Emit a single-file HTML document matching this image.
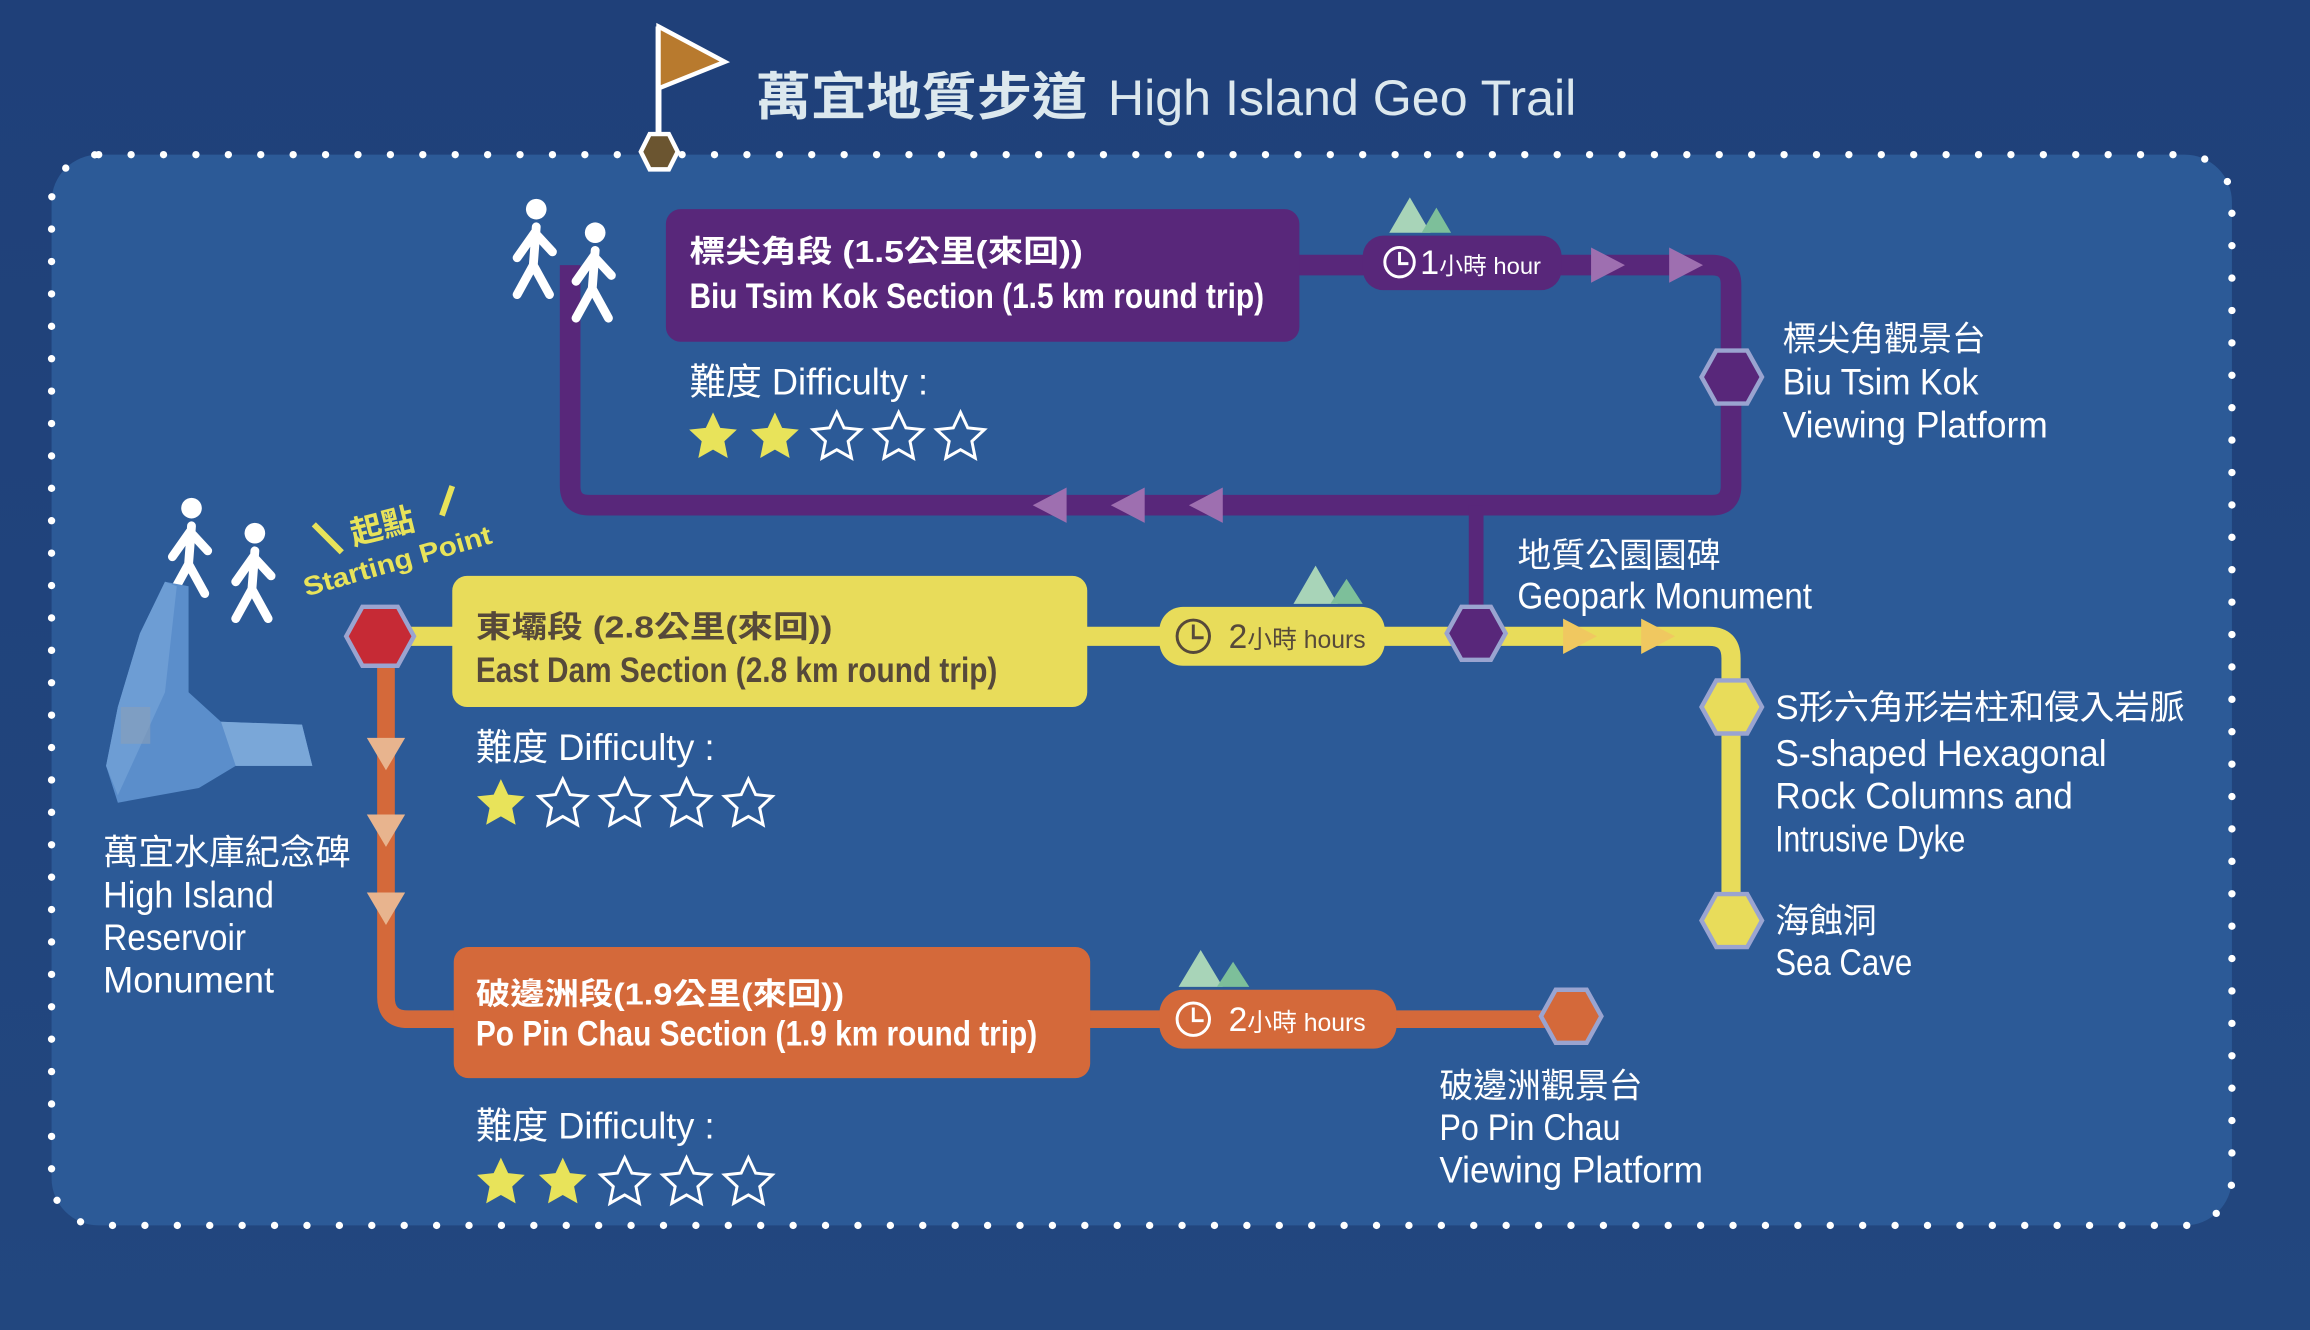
<!DOCTYPE html>
<html><head><meta charset="utf-8"><style>
html,body{margin:0;padding:0;background:#21467e;}
svg{display:block}
text{font-family:"Liberation Sans","Noto Sans CJK TC",sans-serif;}
</style></head><body>
<svg width="2310" height="1330" viewBox="0 0 1568 903" preserveAspectRatio="none" xmlns="http://www.w3.org/2000/svg">
<defs>
<linearGradient id="bg" x1="0" y1="0" x2="0" y2="1"><stop offset="0" stop-color="#1f4079"/><stop offset="1" stop-color="#22477f"/></linearGradient>
<g id="star"><path d="M0,-17 L4.9,-6.5 L16.2,-5.3 L7.7,2.6 L10,14 L0,8.3 L-10,14 L-7.7,2.6 L-16.2,-5.3 L-4.9,-6.5Z"/></g>
<g id="walk" fill="#fff" stroke="#fff" stroke-linecap="round" stroke-width="6">
<circle cx="0" cy="-30" r="7" stroke="none"/>
<path d="M0,-18 L-2,8 M-1,-14 L-13,3 M-1,-14 L11,-1 M-2,8 L-13,28 M-2,8 L9,28" fill="none"/>
</g>
</defs>
<rect width="1568" height="903" fill="url(#bg)"/>
<rect x="35" y="105" width="1480" height="727" rx="32" fill="#2c5a97"/>
<rect x="35" y="105" width="1480" height="727" rx="32" fill="none" stroke="#fff" stroke-width="5" stroke-linecap="round" stroke-dasharray="0 22"/>
<!-- flag -->
<line x1="447" y1="18" x2="447" y2="95" stroke="#fff" stroke-width="4"/>
<path d="M447,18 L492,42 L447,60Z" fill="#b87a2e" stroke="#fff" stroke-width="3"/>
<path d="M435,103 L441,91 L454,91 L460,103 L454,115 L441,115Z" fill="#6b5530" stroke="#fff" stroke-width="3"/>
<text x="513" y="78" font-size="35" font-weight="bold" fill="#dce8ee" textLength="225" lengthAdjust="spacingAndGlyphs">萬宜地質步道</text>
<text x="752" y="78" font-size="34" fill="#dce8ee" textLength="318" lengthAdjust="spacingAndGlyphs">High Island Geo Trail</text>
<!-- purple route -->
<path d="M387,180 L387,330 Q387,343 400,343 L1162,343 Q1175,343 1175,330 L1175,193 Q1175,180 1162,180 L870,180" fill="none" stroke="#58277a" stroke-width="14"/>
<line x1="1002" y1="343" x2="1002" y2="430" stroke="#58277a" stroke-width="10"/>
<rect x="452" y="142" width="430" height="90" rx="10" fill="#58277a"/>
<text x="468" y="178" font-size="21" font-weight="bold" fill="#fff" textLength="267" lengthAdjust="spacingAndGlyphs">標尖角段 (1.5公里(來回))</text>
<text x="468" y="209" font-size="24" font-weight="bold" fill="#fff" textLength="390" lengthAdjust="spacingAndGlyphs">Biu Tsim Kok Section (1.5 km round trip)</text>
<path d="M943,158 L957,134 L971,158Z" fill="#a8d4b8"/><path d="M965,158 L975,141 L985,158Z" fill="#7dbf9a"/>
<rect x="925" y="160" width="135" height="37" rx="14" fill="#58277a"/>
<circle cx="950" cy="178" r="10" fill="none" stroke="#fff" stroke-width="2"/><path d="M950,171 L950,179 L956,179" fill="none" stroke="#fff" stroke-width="2"/>
<text x="964" y="186" font-size="23" fill="#fff" textLength="82" lengthAdjust="spacingAndGlyphs">1<tspan font-size="16">小時 hour</tspan></text>
<path d="M1080,168 L1103,180 L1080,192Z" fill="#9e6fb0"/><path d="M1133,168 L1156,180 L1133,192Z" fill="#9e6fb0"/>
<path d="M724,331 L701,343 L724,355Z" fill="#9e6fb0"/><path d="M777,331 L754,343 L777,355Z" fill="#9e6fb0"/><path d="M830,331 L807,343 L830,355Z" fill="#9e6fb0"/>
<path d="M1155,256 L1165,238 L1186,238 L1196,256 L1186,274 L1165,274Z" fill="#58277a" stroke="#9aa4d0" stroke-width="3"/>
<text x="1210" y="238" font-size="23" fill="#fff">標尖角觀景台</text>
<text x="1210" y="268" font-size="25" fill="#fff" textLength="133" lengthAdjust="spacingAndGlyphs">Biu Tsim Kok</text>
<text x="1210" y="297" font-size="25" fill="#fff" textLength="180" lengthAdjust="spacingAndGlyphs">Viewing Platform</text>
<text x="468" y="268" font-size="25" fill="#fff" textLength="162" lengthAdjust="spacingAndGlyphs">難度 Difficulty :</text>
<g fill="#e8e35a"><use href="#star" x="484" y="297"/><use href="#star" x="526" y="297"/></g>
<g fill="none" stroke="#fff" stroke-width="2"><use href="#star" x="568" y="297"/><use href="#star" x="610" y="297"/><use href="#star" x="652" y="297"/></g>
<!-- yellow route -->
<path d="M258,432 L1160,432 Q1175,432 1175,447 L1175,625" fill="none" stroke="#e8dc5a" stroke-width="13"/>
<rect x="307" y="391" width="431" height="89" rx="10" fill="#e8dc5a"/>
<text x="323" y="433" font-size="21" font-weight="bold" fill="#56493a" textLength="242" lengthAdjust="spacingAndGlyphs">東壩段 (2.8公里(來回))</text>
<text x="323" y="463" font-size="24" font-weight="bold" fill="#56493a" textLength="354" lengthAdjust="spacingAndGlyphs">East Dam Section (2.8 km round trip)</text>
<path d="M878,410 L893,384 L908,410Z" fill="#a8d4b8"/><path d="M903,410 L914,393 L925,410Z" fill="#7dbf9a"/>
<rect x="787" y="412" width="153" height="40" rx="16" fill="#e8dc5a"/>
<circle cx="810" cy="432" r="11" fill="none" stroke="#56493a" stroke-width="2"/><path d="M810,424 L810,433 L817,433" fill="none" stroke="#56493a" stroke-width="2"/>
<text x="834" y="440" font-size="23" fill="#56493a" textLength="93" lengthAdjust="spacingAndGlyphs">2<tspan font-size="17">小時 hours</tspan></text>
<path d="M1061,420 L1084,432 L1061,444Z" fill="#f0c860"/><path d="M1114,420 L1137,432 L1114,444Z" fill="#f0c860"/>
<path d="M982,430 L992,412 L1012,412 L1022,430 L1012,448 L992,448Z" fill="#58277a" stroke="#9aa4d0" stroke-width="3"/>
<path d="M1155,480 L1165,462 L1186,462 L1196,480 L1186,498 L1165,498Z" fill="#e8dc5a" stroke="#9aa4d0" stroke-width="3"/>
<path d="M1155,625 L1165,607 L1186,607 L1196,625 L1186,643 L1165,643Z" fill="#e8dc5a" stroke="#9aa4d0" stroke-width="3"/>
<text x="1030" y="385" font-size="23" fill="#fff">地質公園園碑</text>
<text x="1030" y="413" font-size="25" fill="#fff" textLength="200" lengthAdjust="spacingAndGlyphs">Geopark Monument</text>
<text x="1205" y="488" font-size="23" fill="#fff" textLength="278" lengthAdjust="spacingAndGlyphs">S形六角形岩柱和侵入岩脈</text>
<text x="1205" y="520" font-size="25" fill="#fff" textLength="225" lengthAdjust="spacingAndGlyphs">S-shaped Hexagonal</text>
<text x="1205" y="549" font-size="25" fill="#fff" textLength="202" lengthAdjust="spacingAndGlyphs">Rock Columns and</text>
<text x="1205" y="578" font-size="25" fill="#fff" textLength="129" lengthAdjust="spacingAndGlyphs">Intrusive Dyke</text>
<text x="1205" y="633" font-size="23" fill="#fff">海蝕洞</text>
<text x="1205" y="662" font-size="25" fill="#fff" textLength="93" lengthAdjust="spacingAndGlyphs">Sea Cave</text>
<text x="323" y="516" font-size="25" fill="#fff" textLength="162" lengthAdjust="spacingAndGlyphs">難度 Difficulty :</text>
<g fill="#e8e35a"><use href="#star" x="340" y="546"/></g>
<g fill="none" stroke="#fff" stroke-width="2"><use href="#star" x="382" y="546"/><use href="#star" x="424" y="546"/><use href="#star" x="466" y="546"/><use href="#star" x="508" y="546"/></g>
<!-- orange route -->
<path d="M262,432 L262,677 Q262,692 277,692 L1067,692" fill="none" stroke="#d4693a" stroke-width="12"/>
<path d="M249,501 L275,501 L262,523Z" fill="#e8b48e"/><path d="M249,553 L275,553 L262,575Z" fill="#e8b48e"/><path d="M249,606 L275,606 L262,628Z" fill="#e8b48e"/>
<path d="M235,432 L246,412 L270,412 L281,432 L270,452 L246,452Z" fill="#c62a35" stroke="#9aa4d0" stroke-width="3"/>
<rect x="308" y="643" width="432" height="89" rx="10" fill="#d4693a"/>
<text x="323" y="682" font-size="21" font-weight="bold" fill="#fff" textLength="250" lengthAdjust="spacingAndGlyphs">破邊洲段(1.9公里(來回))</text>
<text x="323" y="710" font-size="24" font-weight="bold" fill="#fff" textLength="381" lengthAdjust="spacingAndGlyphs">Po Pin Chau Section (1.9 km round trip)</text>
<path d="M800,670 L815,645 L830,670Z" fill="#a8d4b8"/><path d="M826,670 L837,653 L848,670Z" fill="#7dbf9a"/>
<rect x="787" y="672" width="161" height="40" rx="16" fill="#d4693a"/>
<circle cx="810" cy="692" r="11" fill="none" stroke="#fff" stroke-width="2"/><path d="M810,684 L810,693 L817,693" fill="none" stroke="#fff" stroke-width="2"/>
<text x="834" y="700" font-size="23" fill="#fff" textLength="93" lengthAdjust="spacingAndGlyphs">2<tspan font-size="17">小時 hours</tspan></text>
<path d="M1046,690 L1056,672 L1077,672 L1087,690 L1077,708 L1056,708Z" fill="#d4693a" stroke="#9aa4d0" stroke-width="3"/>
<text x="977" y="745" font-size="23" fill="#fff">破邊洲觀景台</text>
<text x="977" y="774" font-size="25" fill="#fff" textLength="123" lengthAdjust="spacingAndGlyphs">Po Pin Chau</text>
<text x="977" y="803" font-size="25" fill="#fff" textLength="179" lengthAdjust="spacingAndGlyphs">Viewing Platform</text>
<text x="323" y="773" font-size="25" fill="#fff" textLength="162" lengthAdjust="spacingAndGlyphs">難度 Difficulty :</text>
<g fill="#e8e35a"><use href="#star" x="340" y="803"/><use href="#star" x="382" y="803"/></g>
<g fill="none" stroke="#fff" stroke-width="2"><use href="#star" x="424" y="803"/><use href="#star" x="466" y="803"/><use href="#star" x="508" y="803"/></g>
<!-- walkers -->
<use href="#walk" x="364" y="172"/><use href="#walk" x="404" y="188"/>
<use href="#walk" x="130" y="375"/><use href="#walk" x="173" y="392"/>
<!-- monument -->
<path d="M95,430 L112,395 L128,398 L128,470 L150,490 L205,492 L212,520 L160,520 L135,535 L80,545 L72,520 L80,480Z" fill="#5b8ecb"/>
<path d="M150,490 L205,492 L212,520 L160,520Z" fill="#7aa7d8"/>
<path d="M95,430 L112,395 L120,398 L112,470 L80,540 L72,520 L80,480Z" fill="#6d9dd4"/>
<rect x="82" y="480" width="20" height="25" fill="#8a9fb8" opacity="0.6"/>
<!-- starting point -->
<line x1="213" y1="356" x2="232" y2="375" stroke="#e8e35a" stroke-width="4"/>
<line x1="300" y1="350" x2="307" y2="330" stroke="#e8e35a" stroke-width="4"/>
<text x="240" y="370" font-size="22" font-weight="bold" fill="#e8e35a" transform="rotate(-14 240 370)">起點</text>
<text x="208" y="405" font-size="18" font-weight="bold" fill="#e8e35a" transform="rotate(-16 208 405)" textLength="132" lengthAdjust="spacingAndGlyphs">Starting Point</text>
<text x="70" y="587" font-size="24" fill="#fff" textLength="168" lengthAdjust="spacingAndGlyphs">萬宜水庫紀念碑</text>
<text x="70" y="616" font-size="25" fill="#fff" textLength="116" lengthAdjust="spacingAndGlyphs">High Island</text>
<text x="70" y="645" font-size="25" fill="#fff" textLength="97" lengthAdjust="spacingAndGlyphs">Reservoir</text>
<text x="70" y="674" font-size="25" fill="#fff" textLength="116" lengthAdjust="spacingAndGlyphs">Monument</text>
</svg>
</body></html>
